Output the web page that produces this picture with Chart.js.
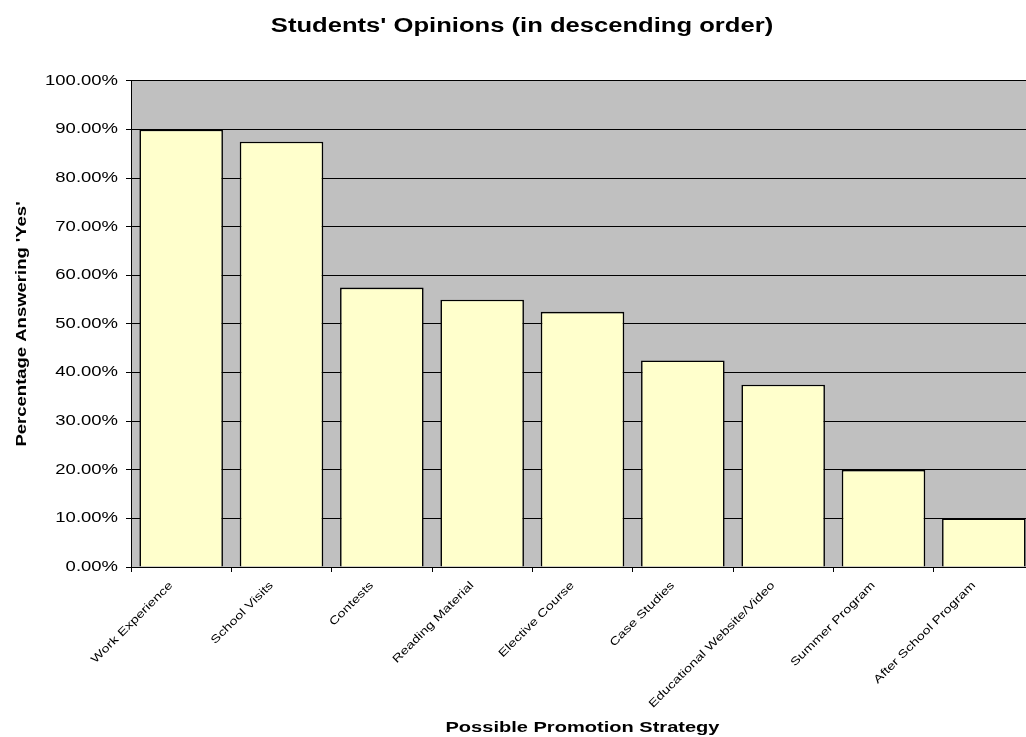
<!DOCTYPE html>
<html>
<head>
<meta charset="utf-8">
<title>Students' Opinions</title>
<script src="https://cdn.jsdelivr.net/npm/chart.js@4/dist/chart.umd.min.js"></script>
<style>
  html, body { margin: 0; padding: 0; background: #fff; overflow: hidden; }
  #wrap { width: 1040px; height: 737px; }
</style>
</head>
<body>
<div id="wrap"><canvas id="opinions"></canvas></div>
<script>
// Survey results, sorted high to low
const strategies = [
  "Work Experience", "School Visits", "Contests", "Reading Material",
  "Elective Course", "Case Studies", "Educational Website/Video",
  "Summer Program", "After School Program"
];
const yesPct = [90, 87.5, 57.5, 55, 52.5, 42.5, 37.5, 20, 10];

const CHART_TITLE = "Students' Opinions (in descending order)";
const X_TITLE = "Possible Promotion Strategy";
const Y_TITLE = "Percentage Answering 'Yes'";

const FONT = "'Liberation Sans', Arial, sans-serif";
const TEXT_WIDEN = 1.32; // old office charts render type wide along the baseline

// stretch every glyph run along its own baseline, keeping the anchor point
function widenText(ctx, k){
  const fill = ctx.fillText.bind(ctx);
  const measure = ctx.measureText.bind(ctx);
  ctx.fillText = (str, x, y) => {
    ctx.save();
    ctx.translate(x, y);
    ctx.scale(k, 1);
    fill(str, 0, 0);
    ctx.restore();
  };
  ctx.measureText = (str) => {
    const m = measure(str);
    return {
      width: m.width * k,
      actualBoundingBoxLeft: m.actualBoundingBoxLeft * k,
      actualBoundingBoxRight: m.actualBoundingBoxRight * k,
      actualBoundingBoxAscent: m.actualBoundingBoxAscent,
      actualBoundingBoxDescent: m.actualBoundingBoxDescent
    };
  };
}

// grey plot area behind the bars
const plotBg = {
  id: "plotBg",
  beforeDraw(chart){
    const { ctx, chartArea: a } = chart;
    ctx.save();
    ctx.fillStyle = "#c0c0c0";
    ctx.fillRect(a.left, a.top, a.right - a.left, a.bottom - a.top);
    ctx.restore();
  }
};

const canvas = document.getElementById("opinions");
const ctx = canvas.getContext("2d");
widenText(ctx, TEXT_WIDEN);

new Chart(ctx, {
  type: "bar",
  data: {
    labels: strategies,
    datasets: [{
      data: yesPct,
      backgroundColor: "#ffffcc",
      borderColor: "#000",
      borderWidth: 1.6,
      barPercentage: 0.833,
      categoryPercentage: 1
    }]
  },
  options: {
    responsive: true,
    maintainAspectRatio: false,
    animation: false,
    layout: { padding: { left: 10, right: 6, top: 0, bottom: 0 } },
    plugins: {
      legend: { display: false },
      tooltip: { enabled: false },
      title: {
        display: true,
        text: CHART_TITLE,
        color: "#000",
        font: { family: FONT, size: 19.4, weight: "bold" },
        padding: { top: 15, bottom: 42.7 }
      }
    },
    scales: {
      x: {
        afterFit(scale){ scale.height = 170; },
        grid: { display: true, drawOnChartArea: false, drawTicks: true, tickLength: 5, color: "#000", offset: true },
        border: { display: true, color: "#000", width: 1 },
        ticks: {
          autoSkip: false, minRotation: 45, maxRotation: 45,
          padding: 7, labelOffset: -10,
          color: "#000", font: { family: FONT, size: 11 }
        },
        title: {
          display: true, text: X_TITLE, color: "#000",
          font: { family: FONT, size: 15.2, weight: "bold" },
          padding: { top: 0, bottom: 0 }
        }
      },
      y: {
        min: 0, max: 100,
        afterFit(scale){ scale.width = 121; },
        grid: { color: "#000", lineWidth: 1, tickLength: 5 },
        border: { display: true, color: "#000", width: 1 },
        ticks: {
          stepSize: 10, padding: 8, color: "#000",
          font: { family: FONT, size: 14 },
          callback: v => v.toFixed(2) + "%"
        },
        title: {
          display: true, text: Y_TITLE, color: "#000",
          font: { family: FONT, size: 14, weight: "bold" },
          padding: { top: 4, bottom: 0 }
        }
      }
    }
  },
  plugins: [plotBg]
});
</script>
</body>
</html>
